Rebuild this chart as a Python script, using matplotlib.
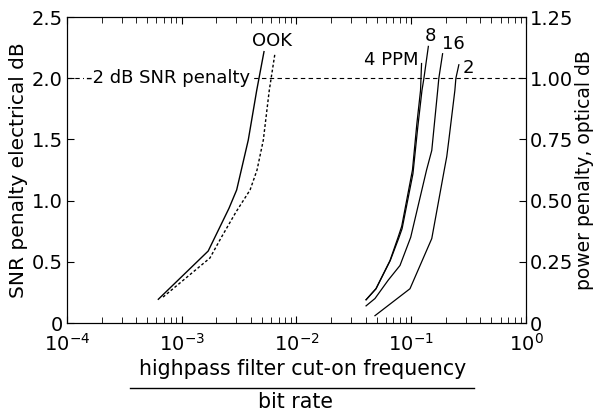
import matplotlib
matplotlib.use('Agg')
import matplotlib.pyplot as plt
from matplotlib.ticker import LogLocator, NullFormatter, FixedLocator

# OOK, solid and dotted
ook_x = [6.25e-4, 1.70e-3, 2.58e-3, 3.01e-3, 3.80e-3, 4.50e-3, 5.21e-3]
ook_y = [0.194, 0.588, 0.937, 1.087, 1.495, 1.90, 2.217]
ookd_x = [6.87e-4, 1.76e-3, 2.23e-3, 2.97e-3, 3.94e-3, 4.53e-3, 5.14e-3, 5.79e-3, 6.50e-3]
ookd_y = [0.212, 0.531, 0.705, 0.907, 1.087, 1.25, 1.495, 1.90, 2.206]

# PPM curves
ppm4_x = [0.0404, 0.0493, 0.0653, 0.0771, 0.0826, 0.1025, 0.112, 0.1205, 0.123]
ppm4_y = [0.19, 0.28, 0.51, 0.705, 0.79, 1.25, 1.63, 1.90, 2.12]
ppm8_x = [0.0404, 0.0493, 0.0656, 0.0776, 0.0832, 0.1035, 0.114, 0.124, 0.129, 0.141]
ppm8_y = [0.19, 0.28, 0.51, 0.69, 0.77, 1.22, 1.60, 1.90, 2.0, 2.26]
ppm16_x = [0.0404, 0.0483, 0.063, 0.0798, 0.0989, 0.136, 0.151, 0.170, 0.174, 0.1876]
ppm16_y = [0.14, 0.20, 0.35, 0.47, 0.70, 1.25, 1.41, 1.90, 2.0, 2.2]
ppm2_x = [0.0483, 0.0975, 0.151, 0.194, 0.204, 0.213, 0.240, 0.245, 0.26]
ppm2_y = [0.06, 0.28, 0.69, 1.25, 1.36, 1.5, 1.90, 2.0, 2.11]

curve_labels = ['OOK', '4 PPM', '8', '16', '2']
label_x = [6.1e-3, 0.1165, 0.1456, 0.231, 0.3126]
label_y = [2.30, 2.15, 2.345, 2.28, 2.08]

left_ticks = [0, 0.5, 1.0, 1.5, 2.0, 2.5]
left_labels = ['0', '0.5', '1.0', '1.5', '2.0', '2.5']
right_ticks = [0, 0.25, 0.5, 0.75, 1.0, 1.25]
right_labels = ['0', '0.25', '0.50', '0.75', '1.00', '1.25']

plt.rcParams['font.family'] = 'DejaVu Sans'
plt.rcParams['mathtext.fontset'] = 'dejavusans'

fig = plt.figure(figsize=(5.95, 4.12), dpi=100)
ax = fig.add_axes([0.1126, 0.216, 0.7714, 0.7427])

ax.plot(ook_x, ook_y, 'k-', lw=1.0)
ax.plot(ookd_x, ookd_y, 'k', ls=(0, (2, 1.6)), lw=1.0)
ax.plot(ppm4_x, ppm4_y, 'k-', lw=0.9)
ax.plot(ppm8_x, ppm8_y, 'k-', lw=0.9)
ax.plot(ppm16_x, ppm16_y, 'k-', lw=0.9)
ax.plot(ppm2_x, ppm2_y, 'k-', lw=0.9)

# 2 dB penalty line
ax.axhline(2.0, color='k', ls=(0, (4, 3)), lw=0.8)
ax.text(1.45e-4, 2.0, '-2 dB SNR penalty', fontsize=13, va='center', ha='left',
        bbox=dict(facecolor='white', edgecolor='none', pad=1))

for t, x, y in zip(curve_labels, label_x, label_y):
    ha = 'right' if t == '4 PPM' else 'center'
    ax.text(x, y, t, fontsize=13, ha=ha, va='center')

ax.set_xscale('log')
ax.set_xlim(1e-4, 1)
ax.set_ylim(0, 2.5)
ax.xaxis.set_major_locator(LogLocator(base=10, numticks=10))
ax.xaxis.set_minor_locator(LogLocator(base=10, subs=range(2, 10), numticks=20))
ax.xaxis.set_minor_formatter(NullFormatter())
ax.yaxis.set_major_locator(FixedLocator(left_ticks))
ax.set_yticklabels(left_labels)
ax.tick_params(axis='both', which='major', direction='in', labelsize=14, length=5, top=True)
ax.tick_params(axis='x', which='minor', direction='in', length=4, top=True)
ax.tick_params(axis='x', which='major', pad=7)
ax.tick_params(axis='y', pad=3)
ax.set_ylabel('SNR penalty electrical dB', fontsize=14.5, labelpad=3)

ax2 = ax.twinx()
ax2.set_ylim(0, 1.25)
ax2.yaxis.set_major_locator(FixedLocator(right_ticks))
ax2.set_yticklabels(right_labels)
ax2.tick_params(axis='y', direction='in', labelsize=14, length=5, pad=3)
ax2.set_ylabel('power penalty, optical dB', fontsize=13.5, rotation=90, labelpad=1)

# fraction-style x label
fig.text(0.508, 0.105, 'highpass filter cut-on frequency', fontsize=14.8, ha='center', va='center')
fig.add_artist(plt.Line2D([0.218, 0.797], [0.058, 0.058], color='k', lw=1.0))
fig.text(0.497, 0.024, 'bit rate', fontsize=14.8, ha='center', va='center')

fig.savefig('out.png', dpi=100)
